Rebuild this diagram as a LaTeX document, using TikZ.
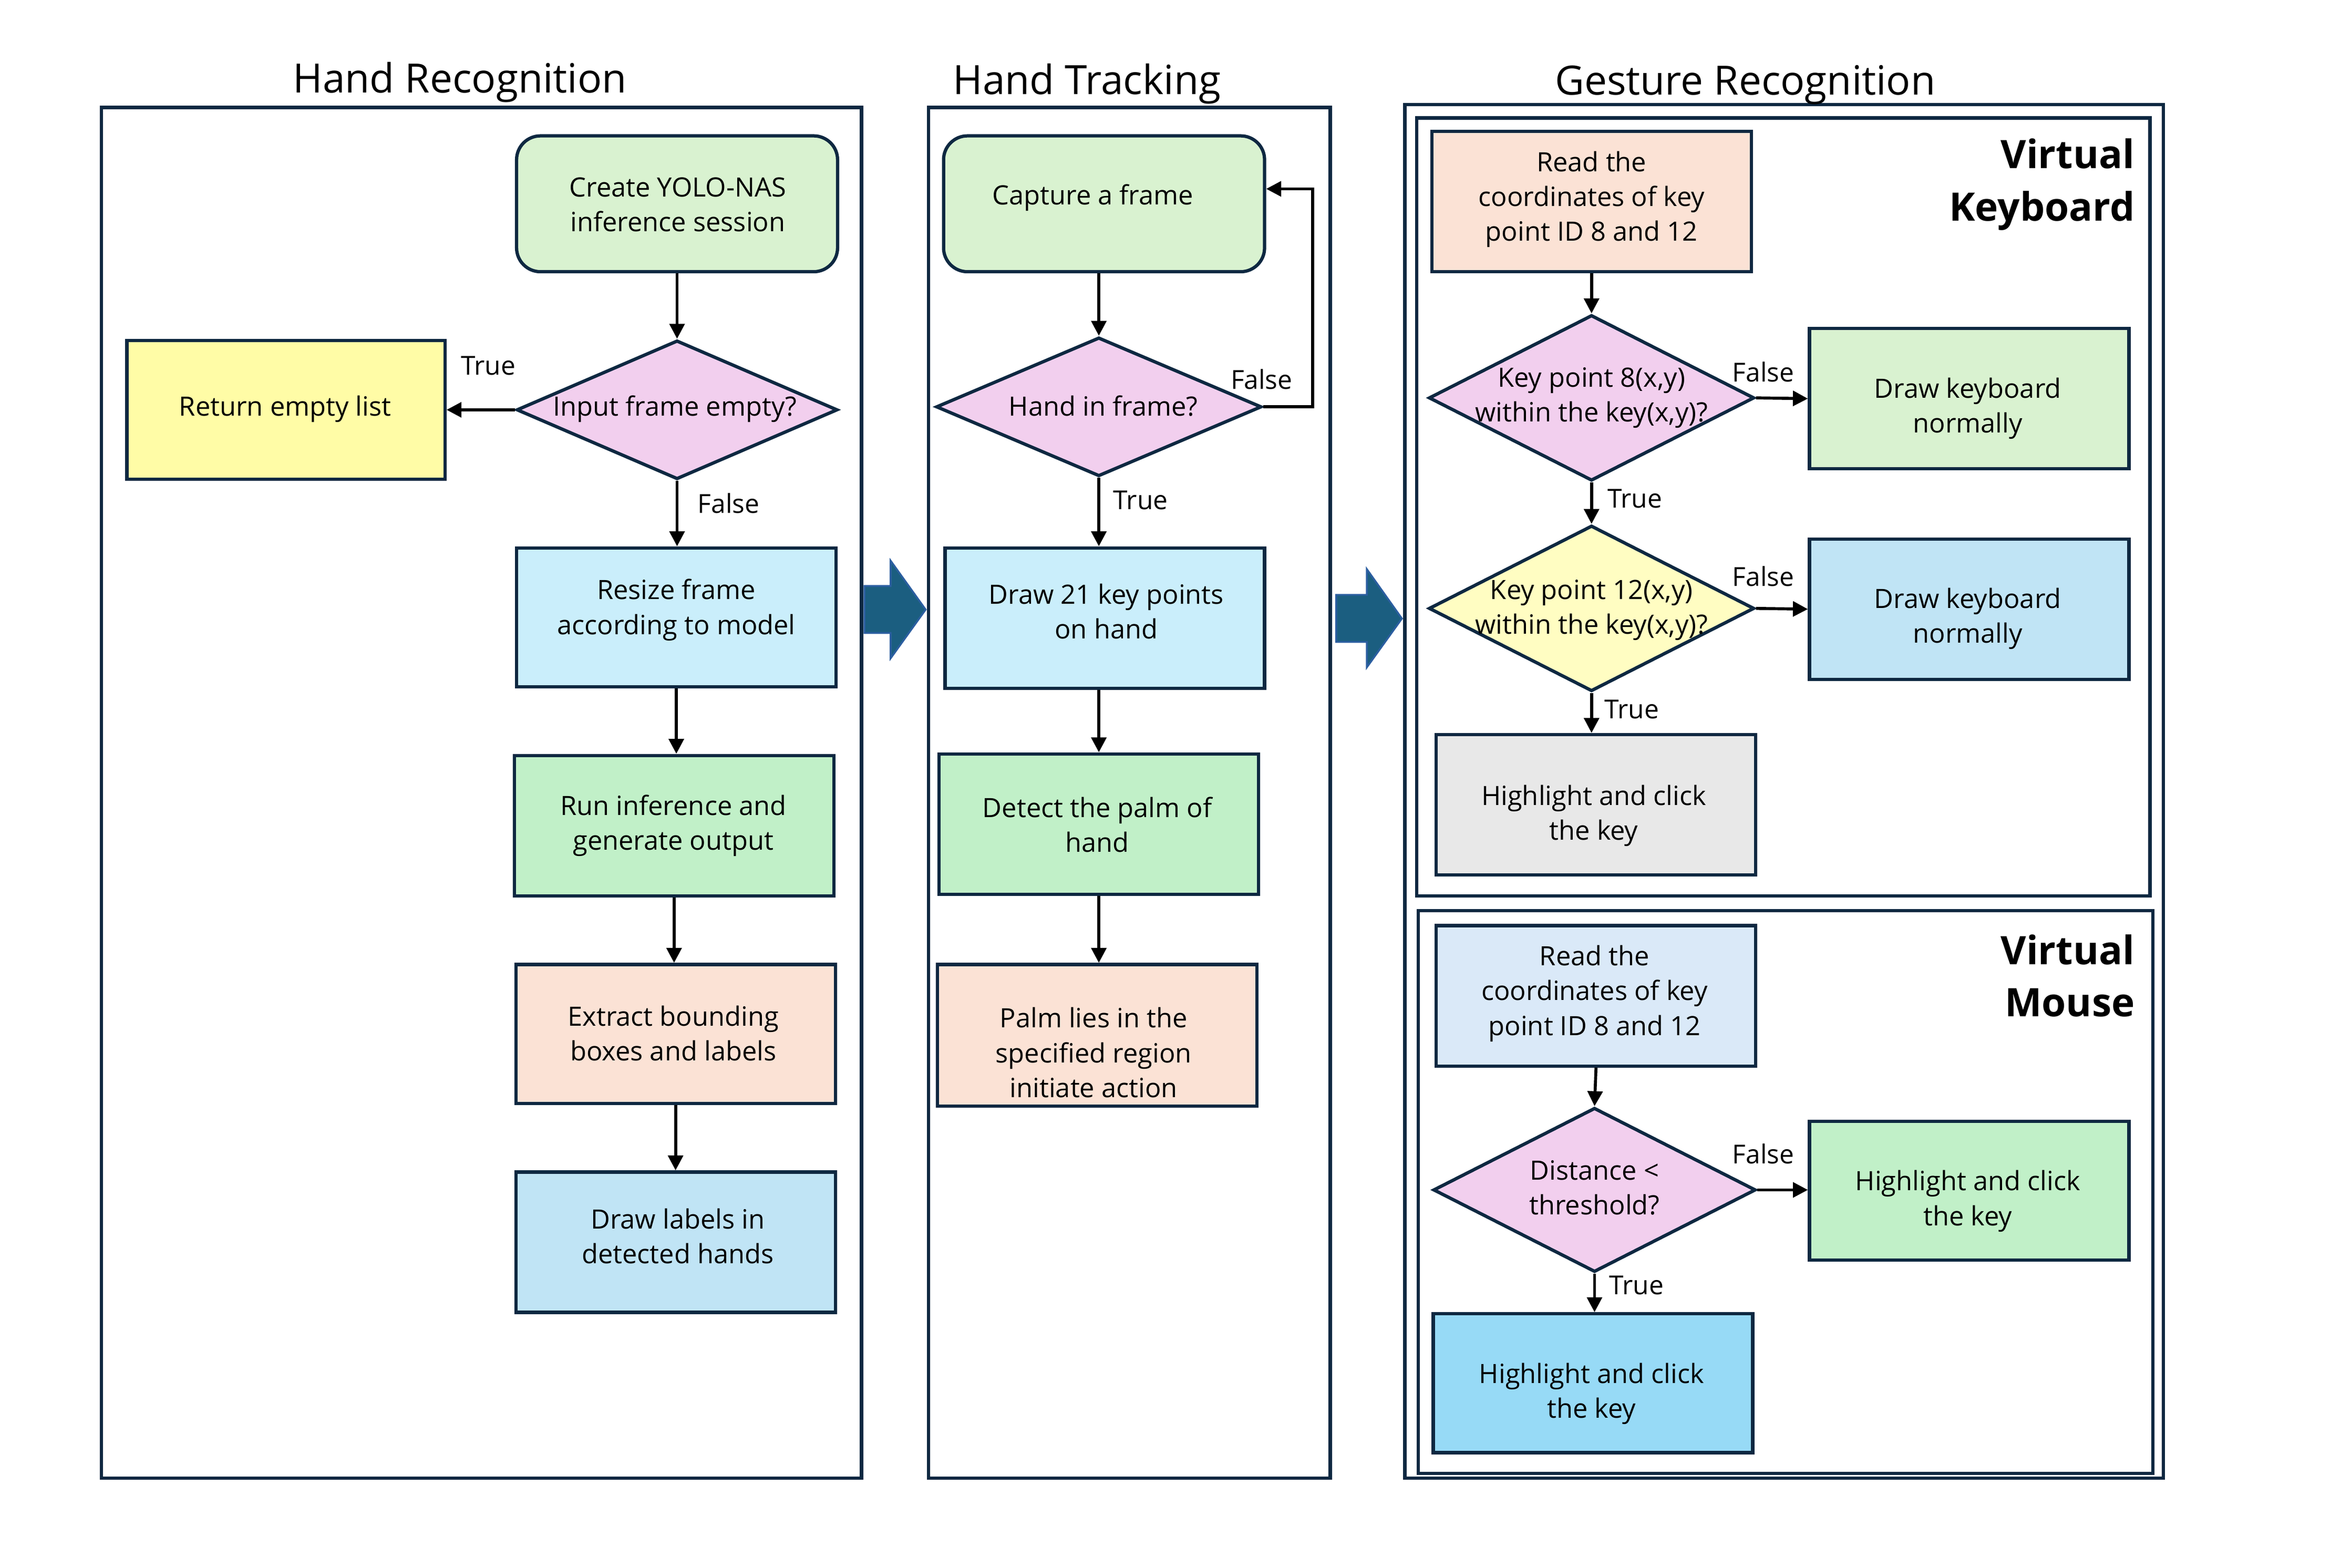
\documentclass[tikz,border=0pt]{standalone}
\usepackage{fontspec}
\setmainfont{Open Sans}
\usetikzlibrary{shapes.geometric,arrows.meta,calc}
\definecolor{navy}{HTML}{0E2841}
\definecolor{cgreenA}{HTML}{D9F2D0}
\definecolor{cgreenB}{HTML}{C1F0C8}
\definecolor{cpeach}{HTML}{FBE2D5}
\definecolor{cblueA}{HTML}{CAEEFB}
\definecolor{cblueB}{HTML}{C0E4F5}
\definecolor{cblueC}{HTML}{97DAF6}
\definecolor{clblue}{HTML}{DAE9F8}
\definecolor{cpink}{HTML}{F2CFEE}
\definecolor{cyellow}{HTML}{FFFCA6}
\definecolor{cyellowB}{HTML}{FFFDC2}
\definecolor{cgray}{HTML}{E8E8E8}
\definecolor{bigfill}{HTML}{1B5E80}
\definecolor{bigdraw}{HTML}{2B5EA0}
\begin{document}
\begin{tikzpicture}[x=1pt,y=-1pt,
  every node/.style={font=\fontsize{17.8}{23.3}\selectfont, align=center},
  box/.style={draw=navy, line width=2.2pt, rectangle, minimum width=214pt, minimum height=94pt, inner sep=0pt},
  rbox/.style={box, rounded corners=16pt},
  dia/.style={draw=navy, line width=2.2pt, diamond, inner sep=0pt},
  tx/.style={inner sep=0pt, yshift=-1.5pt},
  arr/.style={draw=black, line width=2pt, -{Triangle[length=10pt,width=10pt]}},
  lbl/.style={font=\fontsize{17.5}{20}\selectfont, inner sep=0pt},
  panel/.style={draw=navy, line width=2.2pt},
  ttl/.style={font=\fontsize{27}{32}\selectfont},
  vt/.style={font=\fontsize{26.3}{35}\selectfont\bfseries, align=right, anchor=east, inner sep=0pt},
  bigarrow/.style={fill=bigfill, draw=bigdraw, line width=1.2pt}
]
\useasboundingbox (0,0) rectangle (1568,1050);

% ---------------- Panels ----------------
\draw[panel] (68,72) rectangle (577,990);
\draw[panel] (622,72) rectangle (891,990);
\draw[panel] (941,70) rectangle (1449,990);
\draw[panel] (949,79) rectangle (1440,600);
\draw[panel] (950,610) rectangle (1442,987);

\node[ttl] (t1) at (308,55) {Hand Recognition};
\node[ttl] (t2) at (728,56) {Hand Tracking};
\node[ttl] (t3) at (1169,57) {Gesture Recognition};

% ---------------- Big arrows ----------------
\draw[bigarrow] (579,392.5) -- (596.5,392.5) -- (596.5,375.5) -- (620,408.3) -- (596.5,441) -- (596.5,424) -- (579,424) -- cycle;
\draw[bigarrow] (895,398.4) -- (915.5,398.4) -- (915.5,381.2) -- (939,414.3) -- (915.5,447) -- (915.5,430) -- (895,430) -- cycle;

% ---------------- Hand Recognition ----------------
\node[rbox, fill=cgreenA, minimum width=215pt, minimum height=91pt] (yolo) at (453.5,136.5) {};
\node[tx] (yolot) at (454,135.5) {Create YOLO-NAS\\inference session};
\node[dia, fill=cpink, minimum width=215pt, minimum height=93pt] (ife) at (453.5,274.5) {};
\node[tx] (ifet) at (452,272.5) {Input frame empty?};
\node[box, fill=cyellow, minimum width=213pt, minimum height=93pt] (rel) at (191.5,274.5) {};
\node[tx] (relt) at (191,272.5) {Return empty list};
\node[box, fill=cblueA, minimum height=93pt] (rsz) at (453,413.5) {};
\node[tx] (rszt) at (453,407) {Resize frame\\according to model};
\node[box, fill=cgreenB] (run) at (451.5,553) {};
\node[tx] (runt) at (451,551.5) {Run inference and\\generate output};
\node[box, fill=cpeach, minimum height=93pt] (ext) at (452.5,692.5) {};
\node[tx] (extt) at (451,690.5) {Extract bounding\\boxes and labels};
\node[box, fill=cblueB] (drl) at (452.5,832) {};
\node[tx] (drlt) at (454,826.5) {Draw labels in\\detected hands};

\draw[arr] (yolo.south) -- (ife.north);
\draw[arr] (ife.west) -- (rel.east);
\draw[arr] (ife.south) -- (ife.south |- rsz.north);
\draw[arr] (rsz.south) -- (rsz.south |- run.north);
\draw[arr] (run.south) -- (run.south |- ext.north);
\draw[arr] (ext.south) -- (ext.south |- drl.north);
\node[lbl] (l1) at (327,245) {True};
\node[lbl] (l2) at (488,337) {False};

% ---------------- Hand Tracking ----------------
\node[rbox, fill=cgreenA, minimum width=215pt, minimum height=91pt] (cap) at (739.5,136.5) {};
\node[tx] (capt) at (732,131) {Capture a frame};
\node[dia, fill=cpink, minimum width=218pt, minimum height=93pt] (hif) at (736,272.5) {};
\node[tx] (hift) at (739,270.5) {Hand in frame?};
\node[box, fill=cblueA] (d21) at (740,414) {};
\node[tx] (d21t) at (741,408) {Draw 21 key points\\on hand};
\node[box, fill=cgreenB] (palm) at (736,552) {};
\node[tx] (palmt) at (735,551) {Detect the palm of\\hand};
\node[box, fill=cpeach, minimum height=95pt] (pal) at (735,693.5) {};
\node[tx] (palt) at (732.5,703.5) {Palm lies in the\\specified region\\initiate action};

\draw[arr] (hif.north |- cap.south) -- (hif.north);
\draw[arr] (hif.south) -- (hif.south |- d21.north);
\draw[arr] (palm.north |- d21.south) -- (palm.north);
\draw[arr] (palm.south) -- (palm.south |- pal.north);
\draw[arr] (hif.east) -- ++(33,0) |- ([yshift=10pt]cap.east);
\node[lbl] (l3) at (845,254) {False};
\node[lbl] (l4) at (764,335) {True};

% ---------------- Gesture Recognition: Virtual Keyboard ----------------
\node[vt] (vk) at (1430,123.5) {Virtual\\Keyboard};
\node[box, fill=cpeach] (rk) at (1066,135) {};
\node[tx] (rkt) at (1066,132) {Read the\\coordinates of key\\point ID 8 and 12};
\node[dia, fill=cpink, minimum width=218pt, minimum height=111pt] (k8) at (1066,266.5) {};
\node[tx] (k8t) at (1066,265) {Key point 8(x,y)\\within the key(x,y)?};
\node[box, fill=cgreenA] (dkn1) at (1319,267) {};
\node[tx] (dkn1t) at (1318,272) {Draw keyboard\\normally};
\node[dia, fill=cyellowB, minimum width=218pt, minimum height=111pt] (k12) at (1066,407.5) {};
\node[tx] (k12t) at (1066,407) {Key point 12(x,y)\\within the key(x,y)?};
\node[box, fill=cblueB] (dkn2) at (1319,408) {};
\node[tx] (dkn2t) at (1318,413) {Draw keyboard\\normally};
\node[box, fill=cgray] (hk1) at (1069,539) {};
\node[tx] (hk1t) at (1067.5,545) {Highlight and click\\the key};

\draw[arr] (rk.south) -- (k8.north);
\draw[arr] (k8.east) -- (dkn1.west);
\draw[arr] (k8.south) -- (k12.north);
\draw[arr] (k12.east) -- (dkn2.west);
\draw[arr] (k12.south) -- (k12.south |- hk1.north);
\node[lbl] (l5) at (1181,249) {False};
\node[lbl] (l6) at (1095,334) {True};
\node[lbl] (l7) at (1181,386) {False};
\node[lbl] (l8) at (1093,475) {True};

% ---------------- Gesture Recognition: Virtual Mouse ----------------
\node[vt] (vm) at (1430,653.5) {Virtual\\Mouse};
\node[box, fill=clblue] (rm) at (1069,667) {};
\node[tx] (rmt) at (1068,664) {Read the\\coordinates of key\\point ID 8 and 12};
\node[dia, fill=cpink, minimum width=216pt, minimum height=110pt] (dist) at (1068,797) {};
\node[tx] (distt) at (1068,794) {Distance <\\threshold?};
\node[box, fill=cgreenB, minimum height=93pt] (hm1) at (1319,797.5) {};
\node[tx] (hm1t) at (1318,803) {Highlight and click\\the key};
\node[box, fill=cblueC, minimum height=93pt] (hm2) at (1067,926.5) {};
\node[tx] (hm2t) at (1066,932) {Highlight and click\\the key};

\draw[arr] (rm.south) -- (dist.north);
\draw[arr] (dist.east) -- (dist.east -| hm1.west);
\draw[arr] (dist.south) -- (dist.south |- hm2.north);
\node[lbl] (l9) at (1181,773) {False};
\node[lbl] (l10) at (1096,861) {True};
\end{tikzpicture}
\end{document}
